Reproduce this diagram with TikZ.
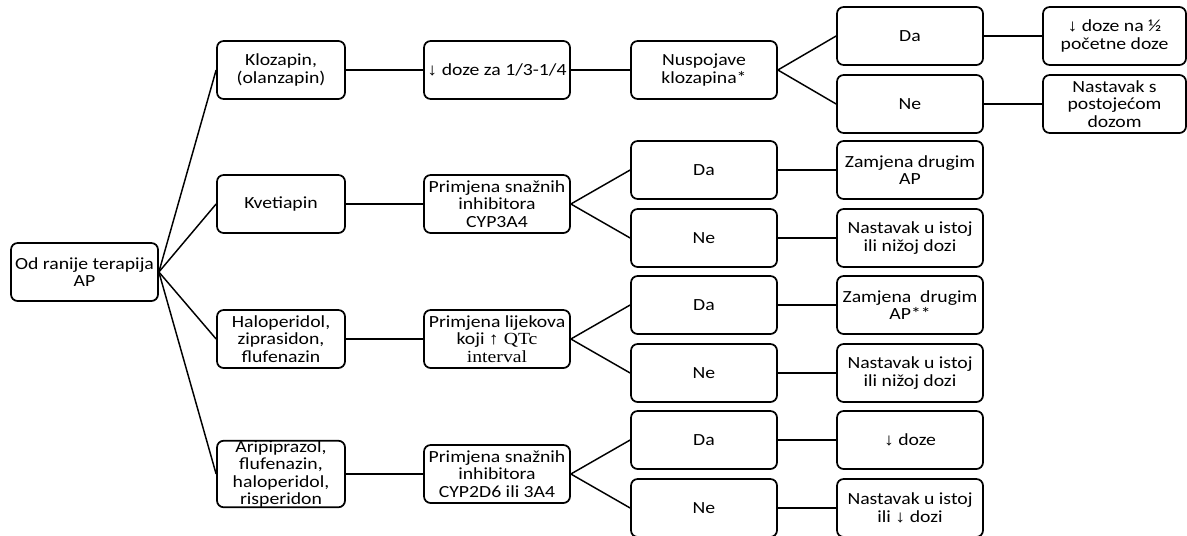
\documentclass[tikz,border=0pt]{standalone}
\usepackage{fontspec}
\setmainfont{Carlito}[FakeStretch=1.16]
\newfontfamily\seriffont{Liberation Serif}[FakeStretch=1.16]
\newcommand\dnar{{\seriffont ↓}}
\begin{document}
\begin{tikzpicture}[x=0.75pt,y=-0.75pt,
  box/.style={draw, line width=1.3pt, rounded corners=5pt, align=center,
    minimum height=43.5pt, inner sep=0pt, font=\fontsize{12.75}{13}\selectfont},
  wA/.style={minimum width=96pt},
  wB/.style={minimum width=109.5pt},
  wC/.style={minimum width=107.25pt},
  wR/.style={minimum width=110.25pt},
  link/.style={line width=1.1pt}]
\useasboundingbox (0,0) rectangle (1187,535);
\node[box,wR] (root) at (84.5,272) {Od ranije terapija\\AP};
\node[box,wA] (k1) at (281,70) {Klozapin,\\(olanzapin)};
\node[box,wA] (k2) at (281,204) {Kvetiapin};
\node[box,wA] (k3) at (281,339) {Haloperidol,\\ziprasidon,\\flufenazin};
\node[box,wA] (k4) at (281,474) {Aripiprazol,\\flufenazin,\\haloperidol,\\risperidon};
\node[box,wB] (p1) at (497,70) {\dnar{} doze za 1/3-1/4};
\node[box,wB] (p2) at (497,204) {Primjena snažnih\\inhibitora\\CYP3A4};
\node[box,wB] (p3) at (497,339) {Primjena lijekova\\koji {\seriffont ↑ QTc}\\{\seriffont interval}};
\node[box,wB] (p4) at (497,474) {Primjena snažnih\\inhibitora\\CYP2D6 ili 3A4};
\node[box,wB] (n1) at (704,70) {Nuspojave\\klozapina*};
\node[box,wB] (d1) at (910,36) {Da};
\node[box,wB] (e1) at (910,104) {Ne};
\node[box,wC] (r1) at (1114.5,36) {\dnar{} doze na ½\\početne doze};
\node[box,wC] (s1) at (1114.5,104) {Nastavak s\\postojećom\\dozom};
\node[box,wB] (d2) at (704,170) {Da};
\node[box,wB] (e2) at (704,238) {Ne};
\node[box,wB] (d3) at (704,305) {Da};
\node[box,wB] (e3) at (704,373) {Ne};
\node[box,wB] (d4) at (704,440) {Da};
\node[box,wB] (e4) at (704,508) {Ne};
\node[box,wB] (r2) at (910,170) {Zamjena drugim\\AP};
\node[box,wB] (s2) at (910,238) {Nastavak u istoj\\ili nižoj dozi};
\node[box,wB] (r3) at (910,305) {Zamjena\ \ drugim\\AP**};
\node[box,wB] (s3) at (910,373) {Nastavak u istoj\\ili nižoj dozi};
\node[box,wB] (r4) at (910,440) {\dnar{} doze};
\node[box,wB] (s4) at (910,508) {Nastavak u istoj\\ili \dnar{} dozi};
\foreach \i in {1,2,3,4} {
  \draw[link] (root.east) -- (k\i.west);
  \draw[link] (k\i.east) -- (p\i.west);
}
\draw[link] (p1.east) -- (n1.west);
\draw[link] (n1.east) -- (d1.west);
\draw[link] (n1.east) -- (e1.west);
\draw[link] (d1.east) -- (r1.west);
\draw[link] (e1.east) -- (s1.west);
\foreach \i in {2,3,4} {
  \draw[link] (p\i.east) -- (d\i.west);
  \draw[link] (p\i.east) -- (e\i.west);
  \draw[link] (d\i.east) -- (r\i.west);
  \draw[link] (e\i.east) -- (s\i.west);
}
\end{tikzpicture}
\end{document}
